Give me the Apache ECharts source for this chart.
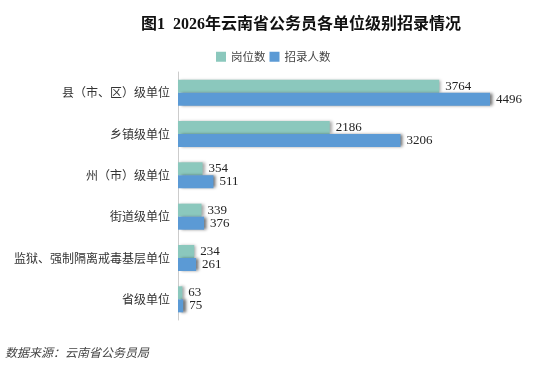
<!DOCTYPE html>
<html><head><meta charset="utf-8">
<script src="https://cdn.jsdelivr.net/npm/echarts@6/dist/echarts.min.js"></script>
<style>html,body{margin:0;padding:0;background:#fff}#c{width:556px;height:370px}</style>
</head><body><div id="c"></div>
<script>
var categories = ['县（市、区）级单位','乡镇级单位','州（市）级单位','街道级单位','监狱、强制隔离戒毒基层单位','省级单位'];
var posts = [3764, 2186, 354, 339, 234, 63];
var hires = [4496, 3206, 511, 376, 261, 75];
var seriesNames = ['岗位数','招录人数'];
var chart = echarts.init(document.getElementById('c'));
var labelStyle = {show:true, position:'right', distance:6, color:'#222', fontFamily:'Liberation Serif', fontSize:13};
chart.setOption({
  animation:false,
  title:{text:'图1  2026年云南省公务员各单位级别招录情况', left:136, top:12,
    textStyle:{fontFamily:'Liberation Serif, Noto Sans CJK SC', fontWeight:'bold', fontSize:16, color:'#111'}},
  legend:{data:seriesNames, top:46, left:211, itemWidth:10, itemHeight:10, itemGap:4, icon:'rect',
    textStyle:{color:'#444', fontSize:11.5, fontFamily:'Noto Sans CJK SC'}},
  grid:{left:178, right:31, top:72, bottom:50, containLabel:false},
  xAxis:{type:'value', min:0, max:5000, show:false, splitLine:{show:false}},
  yAxis:{type:'category', data:categories, inverse:true,
    axisLine:{show:true, lineStyle:{color:'#ccc'}}, axisTick:{show:false},
    axisLabel:{color:'#333', fontSize:12, margin:8, fontFamily:'Noto Sans CJK SC'}},
  series:[
    {name:seriesNames[0], type:'bar', data:posts, barGap:'0%', barCategoryGap:'37%',
      itemStyle:{color:'#8BC8BD', shadowColor:'rgba(0,0,0,0.35)', shadowBlur:3, shadowOffsetX:2},
      label:labelStyle},
    {name:seriesNames[1], type:'bar', data:hires,
      itemStyle:{color:'#5B9AD5', shadowColor:'rgba(0,0,0,0.55)', shadowBlur:3, shadowOffsetX:3},
      label:labelStyle}
  ],
  graphic:[{type:'text', left:5, top:346, style:{text:'数据来源：云南省公务员局', fill:'#444', fontSize:12, fontStyle:'italic', fontFamily:'Noto Sans CJK SC'}}]
});
</script></body></html>
